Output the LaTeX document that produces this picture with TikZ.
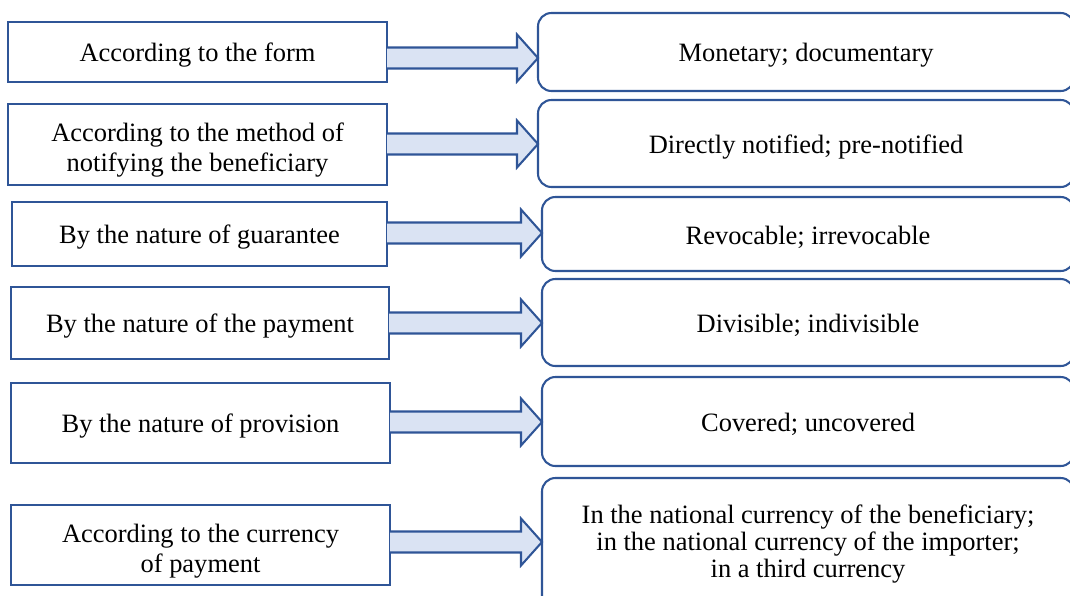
\documentclass[tikz,border=0pt]{standalone}
\usepackage{fontspec}
\setmainfont{Liberation Serif}
\usepackage{tikz}
\usetikzlibrary{calc}
\definecolor{frame}{HTML}{2F5597}
\definecolor{flowfill}{HTML}{DAE3F3}
\tikzset{
  crit/.style  ={draw=frame, fill=white, line width=1pt, anchor=north west,
                 inner sep=0pt, outer sep=0pt, align=center,
                 font=\fontsize{12.8pt}{14.6pt}\selectfont,
                 execute at begin node={\rule{0pt}{12pt}}},
  kind/.style  ={crit, rounded corners=6.5pt,
                 font=\fontsize{12.8pt}{12.9pt}\selectfont},
  flow/.style  ={draw=frame, fill=flowfill, line width=1pt, line join=miter},
}

\begin{document}
\begin{tikzpicture}[x=0.017cm, y=-0.017cm]
\useasboundingbox (0,0) rectangle (1070,595);

% criteria (left column)
\node[crit, minimum width=6.443cm, minimum height=1.020cm] (L1) at (8,22)
  {According to the form};
\node[crit, minimum width=6.443cm, minimum height=1.377cm] (L2) at (8,104)
  {\rule{0pt}{14.5pt}According to the method of\\ notifying the beneficiary};
\node[crit, minimum width=6.375cm, minimum height=1.088cm] (L3) at (12,202)
  {By the nature of guarantee};
\node[crit, minimum width=6.426cm, minimum height=1.224cm] (L4) at (11,287)
  {By the nature of the payment};
\node[crit, minimum width=6.443cm, minimum height=1.360cm] (L5) at (11,383)
  {By the nature of provision};
\node[crit, minimum width=6.443cm, minimum height=1.360cm] (L6) at (11,505)
  {\rule{0pt}{14.5pt}According to the currency\\ of payment};

% kinds (right column)
\node[kind, minimum width=9.112cm, minimum height=1.326cm] (R1) at (538,13)
  {Monetary; documentary};
\node[kind, minimum width=9.112cm, minimum height=1.479cm] (R2) at (538,100)
  {Directly notified; pre-notified};
\node[kind, minimum width=9.044cm, minimum height=1.258cm] (R3) at (542,197)
  {Revocable; irrevocable};
\node[kind, minimum width=9.044cm, minimum height=1.479cm] (R4) at (542,279)
  {Divisible; indivisible};
\node[kind, minimum width=9.044cm, minimum height=1.513cm] (R5) at (542,377)
  {Covered; uncovered};
\node[kind, minimum width=9.044cm, minimum height=2.244cm] (R6) at (542,478)
  {In the national currency of the beneficiary;\\
   in the national currency of the importer;\\
   in a third currency};

% block arrows
\foreach \i/\ay in {1/58, 2/144, 3/233, 4/323, 5/422, 6/542} {
  \coordinate (s\i) at (L\i.east |- 0,\ay);
  \coordinate (t\i) at (R\i.west |- 0,\ay);
  \draw[flow] ($(s\i)+(0,-10.5)$) -- ($(t\i)+(-21,-10.5)$)
    -- ($(t\i)+(-21,-23.5)$) -- (t\i) -- ($(t\i)+(-21,23.5)$)
    -- ($(t\i)+(-21,10.5)$) -- ($(s\i)+(0,10.5)$);
}

\end{tikzpicture}
\end{document}
